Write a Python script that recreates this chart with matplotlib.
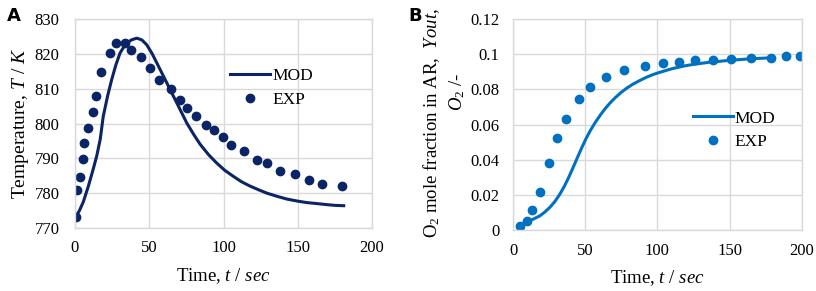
import matplotlib
matplotlib.use("Agg")
import matplotlib.pyplot as plt

plt.rcParams['font.family'] = ['Liberation Serif', 'DejaVu Serif']
plt.rcParams['mathtext.fontset'] = 'custom'
plt.rcParams['mathtext.rm'] = 'Liberation Serif'
plt.rcParams['mathtext.it'] = 'Liberation Serif:italic'

# Panel A: temperature
a_exp_t = [0.7, 1.6, 3.4, 5.6, 6.3, 9.0, 12.1, 13.9, 17.8, 23.6, 27.9, 33.7, 37.8,
           44.3, 50.8, 56.6, 64.3, 71.0, 75.7, 81.3, 88.1, 93.5, 99.3, 104.9,
           113.5, 122.5, 129.2, 138.2, 148.3, 157.3, 166.3, 179.8]
a_exp_T = [773.3, 780.8, 784.6, 789.8, 794.4, 798.7, 803.2, 807.8, 814.7, 820.2,
           823.0, 823.0, 821.0, 819.1, 815.8, 812.6, 810.0, 806.8, 804.5, 802.1,
           799.7, 798.0, 796.0, 793.8, 792.0, 789.6, 788.7, 786.4, 785.4, 783.9,
           782.6, 782.2]
a_mod_t = [0.7, 3, 5.6, 9, 12, 14.6, 17, 19, 22, 24.7, 27.5, 30.3, 34, 38, 41.6,
           45, 48.3, 52, 57.3, 62, 66.3, 71, 75.3, 80, 84.3, 90, 95.5, 101, 106.7,
           112, 118, 124, 129.2, 136, 142.7, 150, 156, 163, 169.7, 175, 180.9]
a_mod_T = [773.3, 775.0, 777.5, 782.0, 786.5, 790.6, 795.5, 802.0, 808.0, 812.6,
           816.8, 820.2, 822.8, 824.0, 824.5, 824.0, 822.6, 820.0, 815.5, 811.5,
           807.8, 803.8, 800.1, 796.8, 794.0, 791.0, 788.6, 786.5, 784.8, 783.3,
           782.0, 780.9, 780.0, 779.1, 778.3, 777.7, 777.3, 777.0, 776.7, 776.5,
           776.4]

# Panel B: O2 mole fraction
b_exp_t = [5.1, 10.0, 13.0, 18.8, 24.9, 30.7, 36.5, 45.6, 53.0, 64.2, 76.7, 91.4,
           104.2, 115.3, 125.8, 138.4, 151.2, 164.9, 178.6, 189.3, 198.8]
b_exp_y = [0.0023, 0.0049, 0.0114, 0.0218, 0.0380, 0.0524, 0.0634, 0.0746, 0.0811,
           0.0868, 0.0908, 0.0931, 0.0950, 0.0957, 0.0965, 0.0965, 0.0972, 0.0980,
           0.0980, 0.0988, 0.0988]
b_mod_t = [9.7, 14, 18.5, 22, 25.4, 29, 32.4, 35.5, 38.5, 41.5, 44.5, 47.5, 50.5,
           53.5, 57, 60.5, 64, 67.5, 71, 75, 79, 83.2, 88, 92.5, 97,
           101.7, 110, 118, 125, 135, 150, 165, 178]
b_mod_y = [0.0047, 0.0062, 0.0080, 0.0102, 0.0128, 0.0162, 0.0203, 0.0248, 0.0298,
           0.0353, 0.0410, 0.0466, 0.0518, 0.0565, 0.0612, 0.0654, 0.0692, 0.0725,
           0.0754, 0.0783, 0.0808, 0.0830, 0.0851, 0.0869, 0.0884, 0.0897, 0.0917,
           0.0932, 0.0942, 0.0953, 0.0965, 0.0974, 0.0979]

navy = '#0b2466'
blue = '#0070c0'
grid_c = '#d9d9d9'

fig = plt.figure(figsize=(8.16, 2.91), dpi=100)
ax1 = fig.add_axes([0.0919, 0.2165, 0.3641, 0.7182])
ax2 = fig.add_axes([0.6287, 0.2096, 0.3538, 0.7251])


def style(ax):
    ax.grid(True, color=grid_c, linewidth=1.0)
    ax.set_axisbelow(True)
    for s in ax.spines.values():
        s.set_color(grid_c)
        s.set_linewidth(1.0)
    ax.tick_params(length=0, labelsize=12)
    ax.tick_params(axis='x', pad=9)
    ax.tick_params(axis='y', pad=11)


# --- A ---
ax1.plot(a_mod_t, a_mod_T, color=navy, lw=2.2, label='MOD')
ax1.plot(a_exp_t, a_exp_T, 'o', color=navy, ms=6, label='EXP')
ax1.set_xlim(0, 200)
ax1.set_ylim(770, 830)
ax1.set_xticks([0, 50, 100, 150, 200])
ax1.set_yticks(range(770, 831, 10))
style(ax1)
ax1.set_xlabel('Time, $t$ / $sec$', fontsize=13.5, labelpad=7)
ax1.set_ylabel('Temperature, $T$ / $K$', fontsize=14, labelpad=3)
ax1.legend(loc='upper left', bbox_to_anchor=(0.5, 0.8), frameon=False,
           fontsize=12.5, handlelength=2.3, handletextpad=0.1, labelspacing=0.45,
           borderaxespad=0)
fig.text(0.008, 0.975, 'A', fontsize=13, fontweight='bold', family='DejaVu Sans',
         va='top')

# --- B ---
ax2.plot(b_mod_t, b_mod_y, color=blue, lw=2.2, label='MOD')
ax2.plot(b_exp_t, b_exp_y, 'o', color=blue, ms=6, label='EXP')
ax2.set_xlim(0, 200)
ax2.set_ylim(0, 0.12)
ax2.set_xticks([0, 50, 100, 150, 200])
ax2.set_yticks([0, 0.02, 0.04, 0.06, 0.08, 0.1, 0.12])
ax2.set_yticklabels(['0', '0.02', '0.04', '0.06', '0.08', '0.1', '0.12'])
style(ax2)
ax2.tick_params(axis='y', pad=10)
ax2.set_xlabel('Time, $t$ / $sec$', fontsize=13.5, labelpad=7)
fig.text(432 / 816, 1 - 123 / 291, 'O$_2$ mole fraction in AR,  $Yout,$',
         fontsize=13.5, rotation=90, ha='center', va='center')
fig.text(457 / 816, 1 - 92 / 291, '$O_2$ /-', fontsize=13.5, rotation=90,
         ha='center', va='center')
ax2.legend(loc='upper left', bbox_to_anchor=(0.6, 0.6), frameon=False,
           fontsize=12.5, handlelength=2.3, handletextpad=0.1, labelspacing=0.45,
           borderaxespad=0)
fig.text(0.5, 0.975, 'B', fontsize=13, fontweight='bold', family='DejaVu Sans',
         va='top')

fig.savefig('out.png', dpi=100)
